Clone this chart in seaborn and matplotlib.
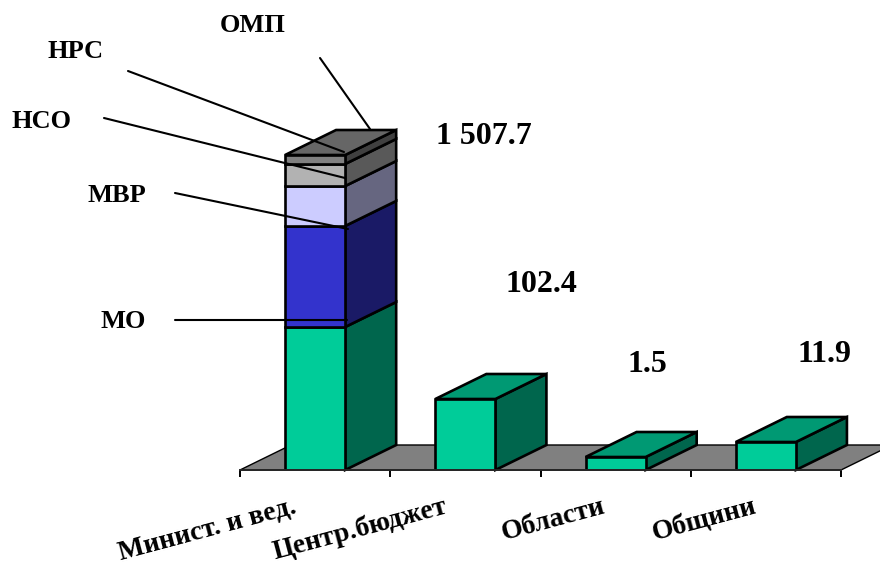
import numpy as np
import pandas as pd
import matplotlib
matplotlib.use("Agg")
import matplotlib.pyplot as plt
from matplotlib.lines import Line2D
from matplotlib.patches import Polygon
from matplotlib.transforms import Affine2D, ScaledTranslation
import seaborn as sns

# Budget data: totals per level, and the ministries' total split by institution
categories = ["Минист. и вед.", "Центр.бюджет", "Области", "Общини"]
totals = [1507.7, 102.4, 1.5, 11.9]
total_labels = ["1 507.7", "102.4", "1.5", "11.9"]
ministry_segments = ["Други", "МО", "МВР", "НСО", "НРС"]
ministry_values = [517.0, 582.0, 230.0, 127.0, 51.7]

# The value axis is compressed piecewise so that small budgets stay visible
scale_values = np.array([0.0, 1.5, 11.9, 102.4, 1507.7, 3000.0])
scale_heights = np.array([0.0, 13.0, 28.0, 71.0, 315.0, 574.0])


def forward(v):
    return np.interp(v, scale_values, scale_heights)


def inverse(h):
    return np.interp(h, scale_heights, scale_values)


W, H = 880, 565
sns.set_style("white")
plt.rcParams["font.family"] = ["Liberation Serif", "DejaVu Serif"]
plt.rcParams["font.weight"] = "bold"

fig = plt.figure(figsize=(W / 100, H / 100), dpi=100)
ax = fig.add_axes([240 / W, (H - 470) / H, (841 - 240) / W, 470 / H])
px = Affine2D().scale(1 / W, -1 / H).translate(0, 1) + fig.transFigure

# Oblique projection used for the box depth
cat_px = (841 - 240) / 4
depth_x = 51 / cat_px
depth_h = 25
bar_width = 0.4
line_w = 1.9


def back(v):
    return inverse(forward(v) + depth_h)


FRONT = ["#00CC99", "#3333CC", "#CCCCFF", "#B2B2B2", "#808080"]
SIDE = ["#00664D", "#1A1A66", "#666680", "#595959", "#404040"]
TOP = {"#00CC99": "#009973", "#808080": "#666666"}

# Front faces: a green base for all levels, the rest stacked on the first bar
base = list(totals[1:])
green = pd.DataFrame({"level": categories, "value": [ministry_values[0]] + base})
edge = dict(edgecolor="black", linewidth=line_w, zorder=4)
sns.barplot(data=green, x="level", y="value", order=categories, width=bar_width,
            color=FRONT[0], saturation=1, ax=ax, **edge)
cum = np.cumsum(ministry_values)
for i in range(1, len(ministry_values)):
    seg = pd.DataFrame({"level": [categories[0]], "value": [ministry_values[i]]})
    sns.barplot(data=seg, x="level", y="value", order=categories, width=bar_width,
                color=FRONT[i], saturation=1, bottom=cum[i - 1], ax=ax, **edge)

ax.set_yscale("function", functions=(forward, inverse))
ax.set_ylim(0, inverse(470))
ax.set_xlim(-0.5, 3.5)


def add_face(points, color, z=3):
    ax.add_patch(Polygon(points, closed=True, facecolor=color, edgecolor="black",
                         linewidth=line_w, zorder=z, clip_on=False))


def add_box_faces(i, low, high, side, top=None):
    x1 = i + bar_width / 2
    x0 = i - bar_width / 2
    add_face([(x1, low), (x1 + depth_x, back(low)),
              (x1 + depth_x, back(high)), (x1, high)], side)
    if top:
        add_face([(x0, high), (x1, high), (x1 + depth_x, back(high)),
                  (x0 + depth_x, back(high))], top)


# Floor of the plot
ax.add_patch(Polygon([(-0.5, 0), (3.5, 0), (3.5 + depth_x, back(0)), (-0.5 + depth_x, back(0))],
                     closed=True, facecolor="#808080", edgecolor="black",
                     linewidth=1.0, zorder=1, clip_on=False))

# Depth faces of the stacked bar
lows = np.concatenate([[0], cum[:-1]])
for k, (lo, hi) in enumerate(zip(lows, cum)):
    add_box_faces(0, lo, hi, SIDE[k], "#666666" if k == len(cum) - 1 else None)
# Depth faces of the remaining bars
for i in range(1, 4):
    add_box_faces(i, 0, totals[i], SIDE[0], TOP[FRONT[0]])

# Axes: baseline with ticks between categories, labels under each category
sns.despine(ax=ax, left=True, top=True, right=True)
ax.spines["bottom"].set_linewidth(1.4)
ax.spines["bottom"].set_zorder(5)
ax.set_facecolor("none")
ax.set_xlabel("")
ax.set_ylabel("")
ax.yaxis.set_visible(False)
ax.set_xticks(np.arange(-0.5, 4.0, 1.0))
ax.set_xticklabels([])
ax.tick_params(axis="x", which="major", length=5, width=1.4, color="black", bottom=True)
ax.set_xticks(np.arange(4), minor=True)
ax.set_xticklabels(categories, minor=True, rotation=15, ha="right", va="center",
                   rotation_mode="anchor", fontsize=20, fontweight="bold", color="black")
ax.tick_params(axis="x", which="minor", length=0, pad=26)
for lab, dx in zip(ax.get_xticklabels(minor=True), [-19, -19, -11, -10]):
    lab.set_transform(lab.get_transform() + ScaledTranslation(dx / 100, 0, fig.dpi_scale_trans))

# Value labels above the bars
for text, x, y in zip(total_labels, [484, 541, 647, 824], [137, 284, 364, 354]):
    fig.text(x, y, text, transform=px, ha="center", va="center",
             fontsize=23, fontweight="bold", color="black")

# Callouts naming the institutions in the stacked bar
callouts = [
    ("ОМП", 253, 26, (320, 58), (370, 129)),
    ("НРС", 76, 51, (128, 71), (344, 152)),
    ("НСО", 41, 122, (104, 118), (345, 178)),
    ("МВР", 117, 195, (175, 193), (348, 229)),
    ("МО", 123, 321, (175, 320), (347, 320)),
]
for name, tx, ty, start, end in callouts:
    fig.text(tx, ty, name, transform=px, ha="center", va="center",
             fontsize=19, fontweight="bold", color="black")
    fig.add_artist(Line2D([start[0], end[0]], [start[1], end[1]], transform=px,
                          color="black", linewidth=1.5, zorder=10))

fig.savefig("out.png", dpi=100)
